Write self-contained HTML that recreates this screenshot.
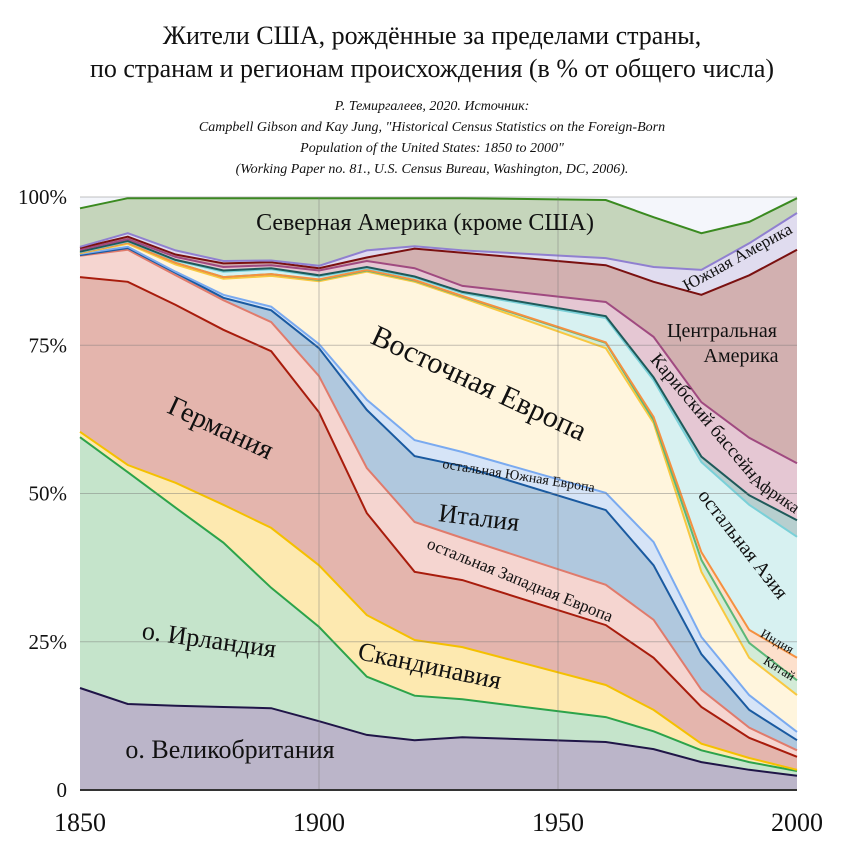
<!DOCTYPE html>
<html><head><meta charset="utf-8">
<style>
body{margin:0;background:#fff;}
svg text{font-family:"Liberation Serif","Noto Serif CJK SC",serif;fill:#111;}
</style></head>
<body>
<svg id="chart" width="864" height="856" viewBox="0 0 864 856" xmlns="http://www.w3.org/2000/svg">
<text x="432" y="44" text-anchor="middle" font-size="26">Жители США, рождённые за пределами страны,</text>
<text x="432" y="77" text-anchor="middle" font-size="26">по странам и регионам происхождения (в % от общего числа)</text>
<g font-style="italic" font-size="14" text-anchor="middle">
<text x="432" y="110">Р. Темиргалеев, 2020. Источник:</text>
<text x="432" y="131">Campbell Gibson and Kay Jung, "Historical Census Statistics on the Foreign-Born</text>
<text x="432" y="152">Population of the United States: 1850 to 2000"</text>
<text x="432" y="173">(Working Paper no. 81., U.S. Census Bureau, Washington, DC, 2006).</text>
</g>
<rect x="80" y="197" width="717" height="593" fill="#f4f6fb"/>
<g id="areas"></g>
<g id="grid"></g>
<g id="axes"></g>
<g font-size="24">
<text x="425" y="230" text-anchor="middle" font-size="24">Северная Америка (кроме США)</text>
<text transform="translate(740,262) rotate(-29)" text-anchor="middle" font-size="17">Южная Америка</text>
<text x="722" y="337" text-anchor="middle" font-size="20">Центральная</text>
<text x="741" y="362" text-anchor="middle" font-size="20">Америка</text>
<text transform="translate(475,392) rotate(25)" text-anchor="middle" font-size="30">Восточная Европа</text>
<text transform="translate(217,436) rotate(25)" text-anchor="middle" font-size="28">Германия</text>
<text transform="translate(518,480) rotate(9)" text-anchor="middle" font-size="14">остальная Южная Европа</text>
<text transform="translate(478,526) rotate(7)" text-anchor="middle" font-size="26">Италия</text>
<text transform="translate(518,585) rotate(22)" text-anchor="middle" font-size="17">остальная Западная Европа</text>
<text transform="translate(208,648) rotate(8)" text-anchor="middle" font-size="26">о. Ирландия</text>
<text transform="translate(428,674) rotate(12)" text-anchor="middle" font-size="26">Скандинавия</text>
<text x="230" y="758" text-anchor="middle" font-size="26">о. Великобритания</text>
<text transform="translate(700,420) rotate(50)" text-anchor="middle" font-size="19">Карибский бассейн</text>
<text transform="translate(772,498) rotate(35)" text-anchor="middle" font-size="17">Африка</text>
<text transform="translate(738,548) rotate(52)" text-anchor="middle" font-size="20">остальная Азия</text>
<text transform="translate(775,645) rotate(30)" text-anchor="middle" font-size="13">Индия</text>
<text transform="translate(777,672) rotate(32)" text-anchor="middle" font-size="13">Китай</text>
</g>
</svg>
<script>
const years = [1850,1860,1870,1880,1890,1900,1910,1920,1930,1960,1970,1980,1990,2000];
const seriesNames = ["uk","ireland","scandinavia","germany","other-west-europe","italy","other-south-europe","eastern-europe","china","india","other-asia","africa","caribbean","central-america","south-america","north-america"];
const ukValues = [17.2,14.5,14.2,14.0,13.8,11.6,9.3,8.4,8.9,8.1,6.9,4.7,3.4,2.4];
const irelandValues = [42.3,39.1,33.4,27.7,20.3,15.9,9.8,7.5,6.4,4.2,3.0,2.0,1.3,0.8];
const scandinaviaValues = [0.9,1.2,4.2,6.4,10.1,10.4,10.4,9.4,8.8,5.4,3.6,1.1,0.7,0.2];
const germanyValues = [26.1,30.9,30.0,29.5,29.8,25.8,17.2,11.5,11.3,10.1,8.8,6.2,3.4,2.2];
const otherWestEuropeValues = [3.6,5.4,5.0,5.0,4.9,6.1,7.6,8.4,7.1,6.8,6.4,2.9,1.7,1.1];
const italyValues = [0.1,0.3,0.4,0.4,2.0,4.7,9.8,11.1,12.1,12.6,9.2,6.0,3.0,1.7];
const otherSouthEuropeValues = [0.2,0.2,0.2,0.5,0.6,0.7,1.7,2.7,2.4,2.9,3.9,2.9,2.5,1.4];
const easternEuropeValues = [0.1,0.5,1.2,2.7,5.2,10.6,21.6,26.7,26.0,24.4,20.1,11.0,6.3,6.2];
const chinaValues = [0.1,0.2,0.3,0.3,0.3,0.2,0.2,0.2,0.2,0.9,0.5,2.0,2.5,2.5];
const indiaValues = [0,0,0,0,0,0.1,0.1,0.1,0.1,0.1,0.5,1.3,2.2,3.8];
const otherAsiaValues = [0.1,0.2,0.4,0.9,0.8,0.5,0.3,0.4,0.5,4.1,6.2,15.2,21.1,20.4];
const africaValues = [0.1,0.1,0.1,0.2,0.2,0.2,0.2,0.2,0.2,0.3,0.5,0.9,1.6,2.8];
const caribbeanValues = [0.3,0.3,0.5,0.6,0.5,0.8,1.0,1.4,1.0,2.4,6.8,9.2,9.7,9.6];
const centralAmericaValues = [0.3,0.4,0.4,0.6,0.5,0.4,0.6,3.3,5.6,6.2,9.3,18.1,27.4,36.0];
const southAmericaValues = [0.2,0.6,0.7,0.4,0.3,0.4,1.2,0.4,0.4,1.2,2.5,4.2,5.4,6.2];
const northAmericaValues = [6.5,5.9,8.8,10.6,10.5,11.4,8.8,8.1,8.8,9.8,8.4,6.2,3.6,2.5];
const yTicks = [0,25,50,75,100];
const yTickLabels = ["0","25%","50%","75%","100%"];
const xTicks = [1850,1900,1950,2000];

const allValues = [ukValues,irelandValues,scandinaviaValues,germanyValues,otherWestEuropeValues,italyValues,otherSouthEuropeValues,easternEuropeValues,chinaValues,indiaValues,otherAsiaValues,africaValues,caribbeanValues,centralAmericaValues,southAmericaValues,northAmericaValues];
const fills = ["#bbb5c9","#c5e4cb","#fde9b0","#e4b5ad","#f5d5d0","#b0c8de","#d6e4f7","#fff5dd","#d3ebd7","#fde0cc","#d7f1f1","#b7cfcf","#e5c7d3","#d2b0b0","#e0dcef","#c5d5bb"];
const strokes = ["#1f1547","#2ca34a","#f5c000","#a81c0c","#e07b6c","#1a5aa0","#7aaaf0","#f8c840","#5cb878","#f59040","#7ad0d8","#1f5a5a","#a04a80","#7a1010","#9080d0","#3a8a20"];

const X0=80,X1=797,Y0=790,Y1=197;
function xs(v){return X0+(v-1850)/(2000-1850)*(X1-X0);}
function ys(v){return Y0-(v/100)*(Y0-Y1);}
const NS="http://www.w3.org/2000/svg";
const areas=document.getElementById('areas');
let base=years.map(()=>0);
allValues.forEach((vals,i)=>{
  const top=base.map((b,j)=>b+vals[j]);
  let d="M"+years.map((y,j)=>xs(y).toFixed(1)+","+ys(top[j]).toFixed(1)).join("L");
  for(let j=years.length-1;j>=0;j--) d+="L"+xs(years[j]).toFixed(1)+","+ys(base[j]).toFixed(1);
  d+="Z";
  const p=document.createElementNS(NS,'path');
  p.setAttribute('d',d);p.setAttribute('fill',fills[i]);
  
  
  areas.appendChild(p);
  base=top;
});
base=years.map(()=>0);
allValues.forEach((vals,i)=>{
  const top=base.map((b,j)=>b+vals[j]);
  const l=document.createElementNS(NS,'polyline');
  l.setAttribute('points',years.map((y,j)=>xs(y).toFixed(1)+","+ys(top[j]).toFixed(1)).join(" "));
  l.setAttribute('fill','none');l.setAttribute('stroke',strokes[i]);l.setAttribute('stroke-width','2');
  
  
  areas.appendChild(l);
  base=top;
});
const grid=document.getElementById('grid');
yTicks.forEach(t=>{
  if(t===0) return;
  const g=document.createElementNS(NS,'line');
  g.setAttribute('x1',X0);g.setAttribute('x2',X1);g.setAttribute('y1',ys(t));g.setAttribute('y2',ys(t));
  g.setAttribute('stroke','#777');g.setAttribute('stroke-opacity','0.45');g.setAttribute('stroke-width','1');
  
  
  grid.appendChild(g);
});
xTicks.forEach(t=>{
  if(t===1850||t===2000) return;
  const g=document.createElementNS(NS,'line');
  g.setAttribute('x1',xs(t));g.setAttribute('x2',xs(t));g.setAttribute('y1',Y1);g.setAttribute('y2',Y0);
  g.setAttribute('stroke','#777');g.setAttribute('stroke-opacity','0.45');g.setAttribute('stroke-width','1');
  
  
  grid.appendChild(g);
});
const axes=document.getElementById('axes');
const ax=document.createElementNS(NS,'line');
ax.setAttribute('x1',X0);ax.setAttribute('x2',X1);ax.setAttribute('y1',Y0);ax.setAttribute('y2',Y0);
ax.setAttribute('stroke','#333');ax.setAttribute('stroke-width','2');


axes.appendChild(ax);
yTicks.forEach((t,i)=>{
  const tx=document.createElementNS(NS,'text');
  tx.setAttribute('x',67);tx.setAttribute('y',ys(t)+7);tx.setAttribute('text-anchor','end');tx.setAttribute('font-size','21');
  tx.textContent=yTickLabels[i];
  
  
  axes.appendChild(tx);
});
xTicks.forEach(t=>{
  const tx=document.createElementNS(NS,'text');
  tx.setAttribute('x',xs(t));tx.setAttribute('y',831);tx.setAttribute('text-anchor','middle');tx.setAttribute('font-size','26');
  tx.textContent=String(t);
  
  
  axes.appendChild(tx);
});
</script>
</body></html>
